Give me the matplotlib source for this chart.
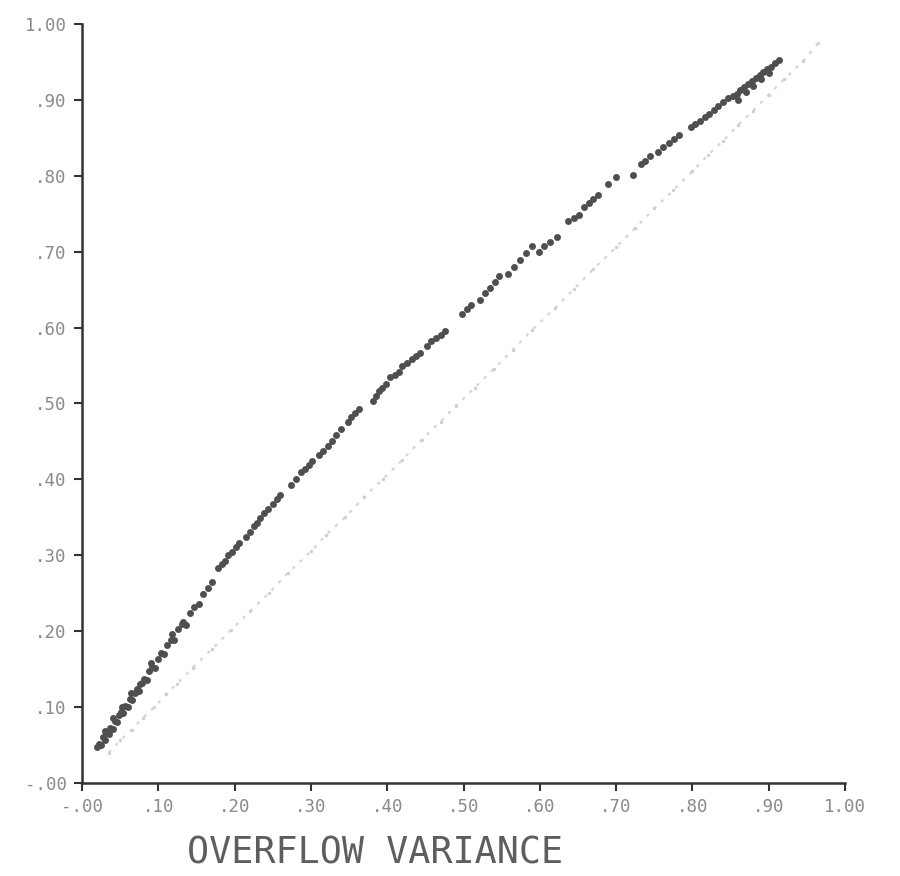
import matplotlib
matplotlib.use("Agg")
import matplotlib.pyplot as plt

# dark points
dark_x = [0.020, 0.022, 0.025, 0.027, 0.030, 0.032, 0.035, 0.037, 0.040, 0.043,
          0.046, 0.048, 0.051, 0.054, 0.057, 0.060, 0.063, 0.066, 0.069, 0.072,
          0.075, 0.078, 0.081, 0.085, 0.088, 0.092, 0.096, 0.100, 0.104, 0.108,
          0.112, 0.116, 0.121, 0.126, 0.131, 0.136, 0.141, 0.147, 0.153, 0.159,
          0.165, 0.170,
          0.030, 0.041, 0.052, 0.064, 0.076, 0.090, 0.118, 0.132,
          0.178, 0.183, 0.188, 0.192, 0.197, 0.202, 0.206,
          0.215, 0.220, 0.226, 0.229,
          0.233, 0.239, 0.244, 0.250, 0.256, 0.260,
          0.274, 0.280, 0.287, 0.292, 0.297, 0.302,
          0.310, 0.316, 0.322, 0.328, 0.333, 0.339, 0.348, 0.353, 0.358, 0.363,
          0.381, 0.385, 0.389, 0.393, 0.398, 0.404, 0.410, 0.416,
          0.420, 0.426, 0.432, 0.438, 0.443,
          0.452, 0.458, 0.464, 0.470, 0.476,
          0.498, 0.504, 0.510,
          0.522, 0.528, 0.535, 0.541, 0.547,
          0.558, 0.566, 0.574, 0.582, 0.590,
          0.599, 0.606, 0.613, 0.622,
          0.637, 0.645, 0.652,
          0.658, 0.664, 0.670, 0.676,
          0.689, 0.700, 0.722,
          0.732, 0.738, 0.744,
          0.755, 0.762, 0.769, 0.776, 0.783,
          0.798, 0.804, 0.810, 0.816, 0.822, 0.828, 0.834, 0.840, 0.846,
          0.853, 0.858, 0.863, 0.868, 0.873, 0.878, 0.883, 0.888, 0.893, 0.898,
          0.903, 0.908, 0.913,
          0.860, 0.870, 0.880, 0.890, 0.900]
dark_y = [0.047, 0.052, 0.050, 0.060, 0.057, 0.066, 0.064, 0.073, 0.071, 0.082,
          0.080, 0.089, 0.094, 0.092, 0.102, 0.100, 0.111, 0.109, 0.119, 0.124,
          0.121, 0.132, 0.137, 0.136, 0.147, 0.153, 0.152, 0.163, 0.171, 0.170,
          0.182, 0.188, 0.189, 0.203, 0.210, 0.208, 0.224, 0.232, 0.236, 0.249,
          0.257, 0.265,
          0.068, 0.085, 0.100, 0.118, 0.130, 0.158, 0.196, 0.212,
          0.283, 0.289, 0.293, 0.300, 0.304, 0.311, 0.316,
          0.324, 0.331, 0.338, 0.343,
          0.349, 0.356, 0.361, 0.368, 0.374, 0.379,
          0.393, 0.401, 0.410, 0.414, 0.419, 0.424,
          0.432, 0.438, 0.444, 0.450, 0.459, 0.466, 0.476, 0.482, 0.488, 0.493,
          0.503, 0.510, 0.516, 0.521, 0.526, 0.535, 0.538, 0.542,
          0.549, 0.554, 0.558, 0.563, 0.567,
          0.576, 0.582, 0.586, 0.590, 0.596,
          0.618, 0.624, 0.630,
          0.637, 0.645, 0.652, 0.660, 0.668,
          0.670, 0.680, 0.689, 0.698, 0.708,
          0.700, 0.707, 0.713, 0.719,
          0.740, 0.744, 0.749,
          0.759, 0.764, 0.769, 0.775,
          0.789, 0.798, 0.801,
          0.815, 0.820, 0.826,
          0.832, 0.838, 0.843, 0.848, 0.854,
          0.864, 0.868, 0.872, 0.877, 0.882, 0.887, 0.892, 0.897, 0.903,
          0.905, 0.908, 0.913, 0.917, 0.921, 0.925, 0.929, 0.933, 0.937, 0.941,
          0.944, 0.948, 0.952,
          0.900, 0.910, 0.918, 0.928, 0.936]

# faint diagonal trace
light_x = [0.035, 0.050, 0.065, 0.080, 0.095, 0.110, 0.125, 0.145, 0.170, 0.195,
           0.220, 0.245, 0.270, 0.300, 0.320, 0.345, 0.370, 0.395, 0.420, 0.445,
           0.470, 0.490, 0.515, 0.540, 0.565, 0.590, 0.620, 0.645, 0.670, 0.700,
           0.725, 0.750, 0.775, 0.800, 0.820, 0.840, 0.860, 0.880, 0.900, 0.920,
           0.945, 0.965]
light_y = [0.040, 0.056, 0.070, 0.086, 0.100, 0.117, 0.131, 0.152, 0.176, 0.201,
           0.226, 0.250, 0.277, 0.305, 0.327, 0.350, 0.377, 0.401, 0.426, 0.452,
           0.476, 0.497, 0.521, 0.546, 0.571, 0.597, 0.626, 0.651, 0.677, 0.706,
           0.731, 0.757, 0.781, 0.806, 0.827, 0.846, 0.867, 0.886, 0.907, 0.927,
           0.951, 0.975]

ticks = [0.0, 0.1, 0.2, 0.3, 0.4, 0.5, 0.6, 0.7, 0.8, 0.9, 1.0]
tick_labels = ["-.00", ".10", ".20", ".30", ".40", ".50", ".60", ".70", ".80", ".90", "1.00"]

fig = plt.figure(figsize=(9, 8.76), dpi=100)
ax = fig.add_axes([0.0911, 0.1062, 0.8478, 0.8664])

ax.plot(light_x, light_y, ls=(0, (1.5, 3)), lw=1.6, color="#d6d6d6",
        marker="o", ms=2.5, mec="none", mfc="#cfcfcf")
ax.plot(dark_x, dark_y, ls="", marker="o", ms=5, color="#4f4f4f", mec="none")

ax.set_xlim(0, 1)
ax.set_ylim(0, 1)
ax.spines["top"].set_visible(False)
ax.spines["right"].set_visible(False)
for s in ["left", "bottom"]:
    ax.spines[s].set_linewidth(1.8)
    ax.spines[s].set_color("#333333")

ax.set_xticks(ticks)
ax.set_xticklabels(tick_labels)
ax.set_yticks(ticks)
ax.set_yticklabels(tick_labels)
ax.tick_params(direction="out", length=6, width=1.5, color="#333333",
               labelsize=12.5, labelcolor="#8a8a8a", pad=5)
for lab in ax.get_xticklabels() + ax.get_yticklabels():
    lab.set_family("DejaVu Sans Mono")

fig.text(375 / 900, 1 - 853 / 876, "OVERFLOW VARIANCE", ha="center", va="center",
         family="DejaVu Sans Mono", fontsize=26.5, color="#5e5e5e")

fig.savefig("out.png", dpi=100, facecolor="white")
